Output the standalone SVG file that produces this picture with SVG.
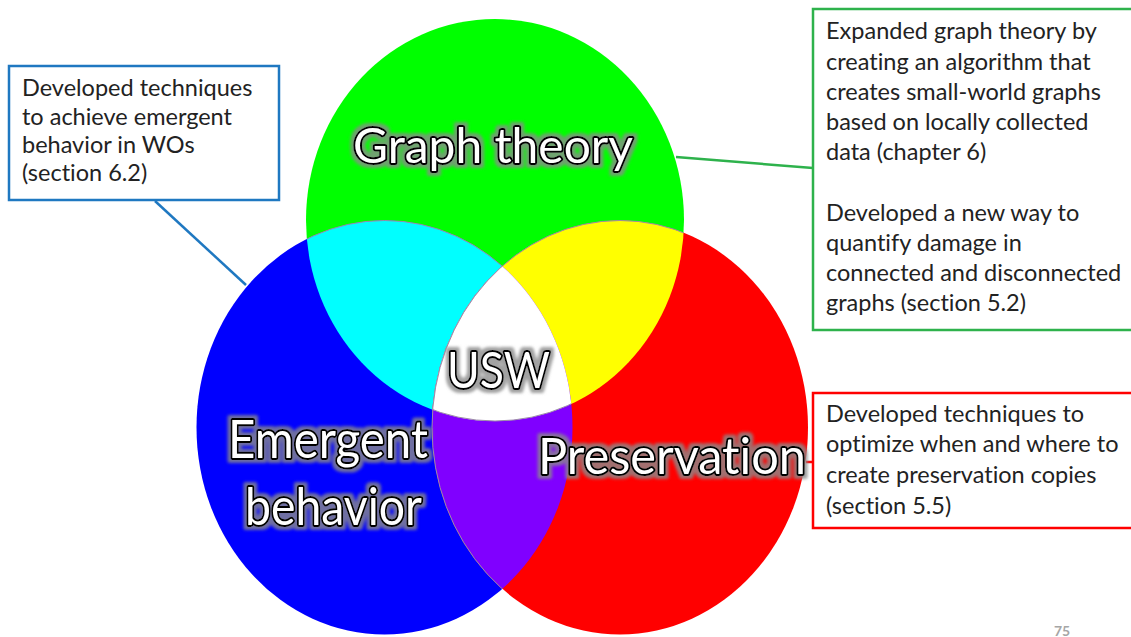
<svg xmlns="http://www.w3.org/2000/svg" width="1131" height="637" viewBox="0 0 1131 637">
<style>
text{font-variant-ligatures:none;font-feature-settings:"liga" 0,"clig" 0}
.box{fill:#fff;stroke-width:2.5}
.bt{font-family:Lato,"Liberation Sans",sans-serif;font-size:23.5px;fill:#222}
.lbl{font-family:Lato,"Liberation Sans",sans-serif;fill:#fff;stroke:#000;stroke-width:4;stroke-linejoin:round;paint-order:stroke;filter:url(#halo)}
.edge{fill:none;stroke:#9c8ca8;stroke-width:1}
</style>
<defs>
<ellipse id="eG" cx="495" cy="220" rx="189" ry="201"/>
<ellipse id="eB" cx="384.5" cy="427.5" rx="188" ry="207"/>
<ellipse id="eR" cx="620" cy="427.5" rx="188" ry="207"/>
<clipPath id="cG"><use href="#eG"/></clipPath>
<clipPath id="cB"><use href="#eB"/></clipPath>
<clipPath id="cR"><use href="#eR"/></clipPath>
<filter id="halo" x="-10%" y="-30%" width="120%" height="160%">
<feMorphology in="SourceAlpha" operator="dilate" radius="2.5" result="d"/>
<feGaussianBlur in="d" stdDeviation="1.5" result="b"/>
<feFlood flood-color="#8a8a8a" flood-opacity="0.8"/>
<feComposite in2="b" operator="in" result="h"/>
<feMerge><feMergeNode in="h"/><feMergeNode in="SourceGraphic"/></feMerge>
</filter>
</defs>
<rect width="1131" height="637" fill="#fff"/>
<g id="venn">
<use href="#eG" fill="#00ff00"/>
<use href="#eB" fill="#0000ff"/>
<use href="#eR" fill="#ff0000"/>
<g clip-path="url(#cG)"><use href="#eB" class="edge" style="fill:#00ffff"/></g>
<g clip-path="url(#cG)"><use href="#eR" style="fill:#ffff00" class="edge"/></g>
<g clip-path="url(#cB)"><use href="#eR" style="fill:#8000ff" class="edge"/></g>
<g clip-path="url(#cG)"><g clip-path="url(#cB)"><use href="#eR" style="fill:#ffffff" class="edge"/></g></g>
<g clip-path="url(#cB)"><g clip-path="url(#cR)"><use href="#eG" style="fill:none" class="edge"/></g></g>
</g>
<g id="connectors" fill="none" stroke-width="2.5">
<line x1="155" y1="201" x2="246" y2="285" stroke="#1f78c1"/>
<line x1="676" y1="157" x2="813" y2="168" stroke="#2eb24c"/>
<line x1="806" y1="462" x2="813" y2="462" stroke="#ff0000"/>
</g>
<g id="label-graph"><text class="lbl" x="353" y="163" font-size="49" textLength="280" lengthAdjust="spacingAndGlyphs">Graph theory</text></g>
<g id="label-usw"><text class="lbl" x="447" y="388" font-size="50" textLength="103" lengthAdjust="spacingAndGlyphs">USW</text></g>
<g id="label-emergent"><text class="lbl" font-size="52"><tspan x="228" y="458" textLength="200" lengthAdjust="spacingAndGlyphs">Emergent</tspan><tspan x="245" y="525" textLength="177" lengthAdjust="spacingAndGlyphs">behavior</tspan></text></g>
<g id="label-preservation"><text class="lbl" x="538" y="474" font-size="50" textLength="268" lengthAdjust="spacingAndGlyphs">Preservation</text></g>
<g id="box-emergent">
<rect class="box" x="9" y="66" width="270" height="134" stroke="#1f78c1"/>
<text class="bt"><tspan x="22" y="96">Developed techniques</tspan><tspan x="22" y="125">to achieve emergent</tspan><tspan x="22" y="153">behavior in WOs</tspan><tspan x="22" y="181">(section 6.2)</tspan></text>
</g>
<g id="box-graph">
<rect class="box" x="813" y="9" width="330" height="321" stroke="#2eb24c"/>
<text class="bt"><tspan x="826" y="39">Expanded graph theory by</tspan><tspan x="826" y="70">creating an algorithm that</tspan><tspan x="826" y="100">creates small-world graphs</tspan><tspan x="826" y="130">based on locally collected</tspan><tspan x="826" y="160">data (chapter 6)</tspan><tspan x="826" y="221">Developed a new way to</tspan><tspan x="826" y="251">quantify damage in</tspan><tspan x="826" y="281">connected and disconnected</tspan><tspan x="826" y="311">graphs (section 5.2)</tspan></text>
</g>
<g id="box-preservation">
<rect class="box" x="813" y="393" width="330" height="135" stroke="#ff0000"/>
<text class="bt"><tspan x="826" y="422">Developed techniques to</tspan><tspan x="826" y="452">optimize when and where to</tspan><tspan x="826" y="483">create preservation copies</tspan><tspan x="826" y="514">(section 5.5)</tspan></text>
</g>
<g id="page-number"><text x="1062" y="636" font-family="Lato,'Liberation Sans',sans-serif" font-size="14" font-weight="bold" fill="#a6a6a6" text-anchor="middle">75</text></g>
</svg>
